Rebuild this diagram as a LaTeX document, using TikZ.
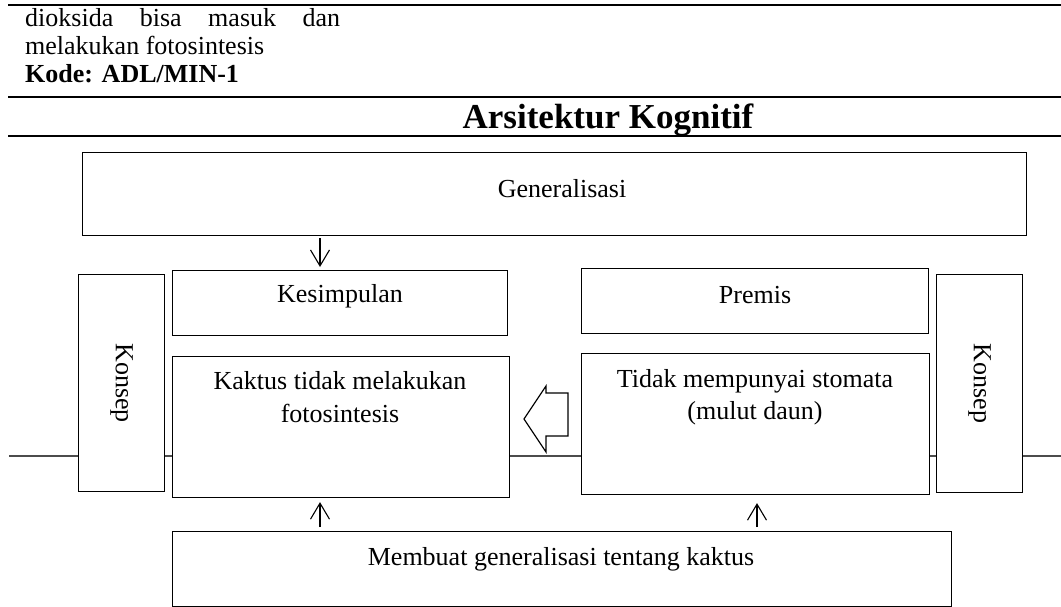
\documentclass[tikz,border=0pt]{standalone}
\usepackage{fontspec}
\setmainfont{Liberation Serif}
\usetikzlibrary{arrows.meta}
\begin{document}
\begin{tikzpicture}[x=1pt,y=-1pt,
  box/.style={draw, line width=1.1pt, fill=white, inner sep=0pt, anchor=north west},
  txt/.style={inner sep=0pt, anchor=base, font=\fontsize{26}{28}\selectfont},
  rule/.style={line width=2pt},
  arr/.style={line width=1.1pt, -{Straight Barb[length=16pt,width=19pt,line width=1.1pt]}},
  hline/.style={line width=1.6pt, draw=black!70}
]
\useasboundingbox (0,0) rectangle (1061,607);

% header rules
\coordinate (r1a) at (8,5);   \coordinate (r1b) at (1061,5);
\coordinate (r2a) at (8,97);  \coordinate (r2b) at (1061,97);
\coordinate (r3a) at (8,136); \coordinate (r3b) at (1061,136);
\draw[rule] (r1a) -- (r1b);
\draw[rule] (r2a) -- (r2b);
\draw[rule] (r3a) -- (r3b);

% header text
\node[txt, anchor=base west] (h1) at (25,27) {\makebox[315pt][s]{dioksida\hfill bisa\hfill masuk\hfill dan}};
\node[txt, anchor=base west] (h2) at (25,55) {melakukan fotosintesis};
\node[txt, anchor=base west] (h3) at (25,83) {\bfseries Kode: ADL/MIN-1};
\node[txt, font=\fontsize{35}{38}\selectfont\bfseries] (title) at (608,129) {Arsitektur Kognitif};

% horizontal axis line (behind boxes)
\coordinate (hl1) at (9,456); \coordinate (hl2) at (1061,456);
\draw[hline] (hl1) -- (hl2);

% boxes
\node[box, minimum width=944pt, minimum height=83pt] (gen) at (82,152) {};
\node[box, minimum width=335pt, minimum height=65pt] (kes) at (172,270) {};
\node[box, minimum width=347pt, minimum height=65pt] (pre) at (581,268) {};
\node[box, minimum width=337pt, minimum height=141pt] (kak) at (172,356) {};
\node[box, minimum width=348pt, minimum height=141pt] (tid) at (581,353) {};
\node[box, minimum width=86pt, minimum height=217pt] (kl) at (78,274) {};
\node[box, minimum width=86pt, minimum height=218pt] (kr) at (936,274) {};
\node[box, minimum width=779pt, minimum height=75pt] (mem) at (172,531) {};

% texts
\node[txt] (gent) at (562,197) {Generalisasi};
\node[txt] (kest) at (340,302) {Kesimpulan};
\node[txt] (pret) at (755,303) {Premis};
\node[txt] (kak1) at (340,389) {Kaktus tidak melakukan};
\node[txt] (kak2) at (340,422) {fotosintesis};
\node[txt] (tid1) at (755,387) {Tidak mempunyai stomata};
\node[txt] (tid2) at (755,419) {(mulut daun)};
\node[txt, anchor=center, rotate=-90] (klt) at (kl.center) {Konsep};
\node[txt, anchor=center, rotate=-90] (krt) at (kr.center) {Konsep};
\node[txt] (memt) at (561,565) {Membuat generalisasi tentang kaktus};

% connectors
\coordinate (c1) at (320,0);
\coordinate (c2) at (757,0);
\draw[arr, shorten <=2pt, shorten >=3pt] (gen.south -| c1) -- (kes.north -| c1);
\draw[arr, shorten <=4pt, shorten >=4pt] (mem.north -| c1) -- (kak.south -| c1);
\draw[arr, shorten <=4pt, shorten >=8pt] (mem.north -| c2) -- (tid.south -| c2);

% block arrow (left-pointing)
\draw[line width=1.2pt, fill=white] (524,419) -- (546,386) -- (546,393) -- (568,393)
  -- (568,436) -- (546,436) -- (546,452) -- cycle;
\end{tikzpicture}
\end{document}
